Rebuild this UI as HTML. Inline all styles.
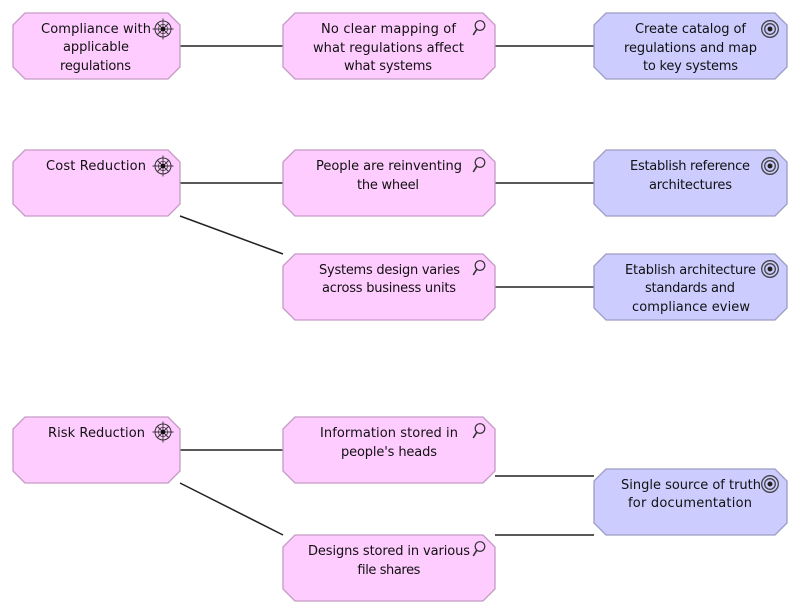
<!DOCTYPE html>
<html><head><meta charset="utf-8"><style>
html,body{margin:0;padding:0;background:#fff;width:800px;height:615px;overflow:hidden}
svg{display:block}
text{font-family:"DejaVu Sans","Liberation Sans",sans-serif;font-size:13px;fill:#111}
.p{fill:#ffccff;stroke:#c49ac4;stroke-width:1.3}
.b{fill:#ccccff;stroke:#9c9cc4;stroke-width:1.3}
.l{stroke:#222;stroke-width:1.5;fill:none}
</style></head><body>
<svg width="800" height="615" viewBox="0 0 800 615" xmlns="http://www.w3.org/2000/svg">
<defs>
<g id="wheel" fill="none" stroke="#333" stroke-width="1">
<circle r="8"/><circle r="4.6" stroke-width=".7"/>
<path d="M0-10.5V10.5M-10.5 0H10.5M-6-6L6 6M-6 6L6-6" stroke-width=".9"/>
<circle r="2.3" fill="#111" stroke="none"/>
</g>
<g id="mag" fill="none" stroke="#333">
<circle cx="0" cy="-2.5" r="4.8" stroke-width="1.2"/>
<path d="M-3.2 1.2L-6.8 7" stroke-width="1.6"/>
</g>
<g id="target" fill="none" stroke="#444">
<circle r="8.3" stroke-width="1.3"/><circle r="5.3" stroke-width="1.3"/><circle r="2.5" fill="#222" stroke="none"/>
</g>
</defs>

<!-- connectors -->
<path class="l" d="M180 46H283M495 46H594M180 183H283M495 183H594M180 216L283 254M495 287H594M180 450H283M180 483L283 535M495 476H594M495 535H594"/>

<!-- row 1 -->
<polygon class="p" points="25,13 168,13 180,25 180,67 168,79 25,79 13,67 13,25"/>
<polygon class="p" points="295,13 483,13 495,25 495,67 483,79 295,79 283,67 283,25"/>
<polygon class="b" points="606,13 775,13 787,25 787,67 775,79 606,79 594,67 594,25"/>
<use href="#wheel" x="163" y="29"/><use href="#mag" x="480" y="28"/><use href="#target" x="770" y="29"/>
<text x="41" y="33" textLength="110">Compliance with</text>
<text x="63" y="51" textLength="66">applicable</text>
<text x="60" y="70" textLength="71">regulations</text>
<text x="321" y="33" textLength="135">No clear mapping of</text>
<text x="313" y="52" textLength="151">what regulations affect</text>
<text x="344" y="70" textLength="88">what systems</text>
<text x="635" y="33" textLength="111">Create catalog of</text>
<text x="624" y="52" textLength="133">regulations and map</text>
<text x="643" y="70" textLength="95">to key systems</text>

<!-- row 2 -->
<polygon class="p" points="25,150 168,150 180,162 180,204 168,216 25,216 13,204 13,162"/>
<polygon class="p" points="295,150 483,150 495,162 495,204 483,216 295,216 283,204 283,162"/>
<polygon class="b" points="606,150 775,150 787,162 787,204 775,216 606,216 594,204 594,162"/>
<use href="#wheel" x="163" y="166"/><use href="#mag" x="480" y="165"/><use href="#target" x="770" y="166"/>
<text x="46" y="170" textLength="100">Cost Reduction</text>
<text x="316" y="170" textLength="146">People are reinventing</text>
<text x="357" y="189" textLength="62">the wheel</text>
<text x="630" y="170" textLength="120">Establish reference</text>
<text x="649" y="189" textLength="83">architectures</text>

<!-- row 3 -->
<polygon class="p" points="295,254 483,254 495,266 495,308 483,320 295,320 283,308 283,266"/>
<polygon class="b" points="606,254 775,254 787,266 787,308 775,320 606,320 594,308 594,266"/>
<use href="#mag" x="480" y="268"/><use href="#target" x="770" y="269"/>
<text x="319" y="274" textLength="141">Systems design varies</text>
<text x="322" y="292" textLength="134">across business units</text>
<text x="625" y="274" textLength="131">Etablish architecture</text>
<text x="645" y="292" textLength="90">standards and</text>
<text x="632" y="311" textLength="118">compliance eview</text>

<!-- row 4 -->
<polygon class="p" points="25,417 168,417 180,429 180,471 168,483 25,483 13,471 13,429"/>
<polygon class="p" points="295,417 483,417 495,429 495,471 483,483 295,483 283,471 283,429"/>
<polygon class="b" points="606,469 775,469 787,481 787,523 775,535 606,535 594,523 594,481"/>
<use href="#wheel" x="163" y="432"/><use href="#mag" x="480" y="431"/><use href="#target" x="770" y="484"/>
<text x="48" y="437" textLength="97">Risk Reduction</text>
<text x="320" y="437" textLength="138">Information stored in</text>
<text x="341" y="456" textLength="96">people's heads</text>
<text x="621" y="489" textLength="140">Single source of truth</text>
<text x="628" y="507" textLength="124">for documentation</text>

<!-- row 5 -->
<polygon class="p" points="295,535 483,535 495,547 495,589 483,601 295,601 283,589 283,547"/>
<use href="#mag" x="480" y="549"/>
<text x="308" y="555" textLength="162">Designs stored in various</text>
<text x="357" y="574" textLength="63">file shares</text>
</svg>
</body></html>
